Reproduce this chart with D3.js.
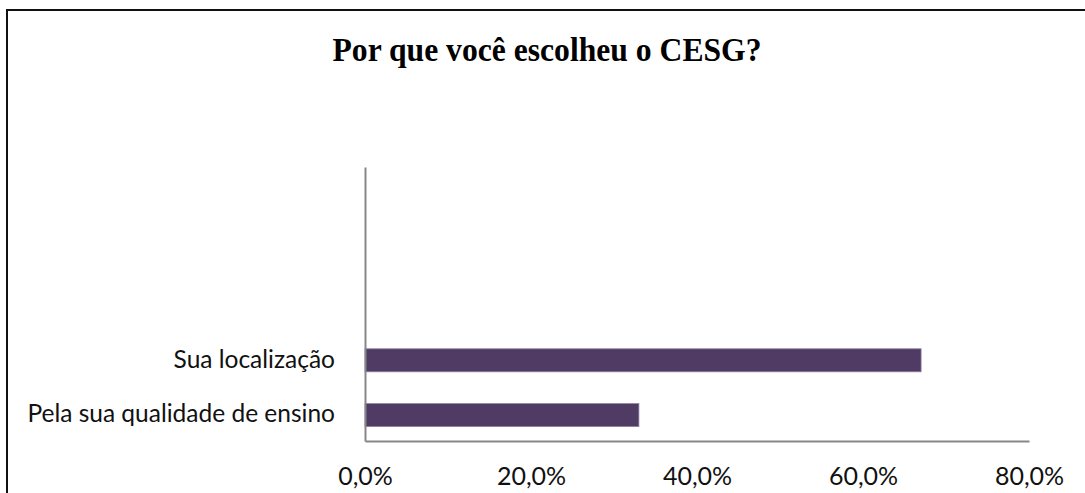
<!DOCTYPE html>
<html>
<head>
<meta charset="utf-8">
<script src="https://cdn.jsdelivr.net/npm/d3@7"></script>
<style>
  body { margin: 0; background: #fff; }
</style>
</head>
<body>
<script>
var width = 1085;
var height = 493;

var margin = {top: 167, left: 365, right: 56, bottom: 52};

// data
var title = "Por que você escolheu o CESG?";
var categories = ["", "", "", "Sua localização", "Pela sua qualidade de ensino"];
var values = [null, null, null, 0.67, 0.33];
var tickValues = [0, 0.2, 0.4, 0.6, 0.8];

var svg = d3.select("body")
  .append("svg")
  .attr("width", width)
  .attr("height", height);

// outer frame (cut off at right and bottom)
svg.append("rect")
  .attr("x", 7)
  .attr("y", 10)
  .attr("width", width + 20)
  .attr("height", height + 20)
  .attr("fill", "none")
  .attr("stroke", "#111")
  .attr("stroke-width", 2);

svg.append("text")
  .attr("x", 547)
  .attr("y", 61)
  .attr("text-anchor", "middle")
  .attr("font-family", "'Liberation Serif', 'Times New Roman', serif")
  .attr("font-weight", "bold")
  .attr("font-size", 33)
  .attr("textLength", 429)
  .attr("lengthAdjust", "spacingAndGlyphs")
  .text(title);

var locale = d3.formatLocale({decimal: ",", thousands: ".", grouping: [3], currency: ["R$", ""]});
var fmt = locale.format(".1%");

var xScale = d3.scaleLinear()
  .domain([0, 0.8])
  .range([margin.left, width - margin.right]);

var yScale = d3.scaleBand()
  .domain(d3.range(categories.length))
  .range([margin.top, height - margin.bottom])
  .paddingInner(0.58)
  .paddingOuter(0.29);

var bars = svg.selectAll("rect.bar")
  .data(values.map(function(v, i) { return {i: i, v: v}; }).filter(function(d) { return d.v != null; }))
  .enter()
  .append("rect")
  .attr("class", "bar")
  .attr("x", xScale(0))
  .attr("y", function(d) { return yScale(d.i) + 1.5; })
  .attr("width", function(d) { return xScale(d.v) - xScale(0); })
  .attr("height", yScale.bandwidth())
  .attr("fill", "#4f3b63")
  .attr("stroke", "#8f82a3")
  .attr("stroke-width", 0.8);

// axes
var xAxis = svg.append("g")
  .attr("transform", "translate(0," + (height - margin.bottom) + ")")
  .call(d3.axisBottom(xScale).tickValues(tickValues).tickFormat(fmt).tickSize(0).tickPadding(26));

xAxis.select(".domain").attr("stroke", "#878787").attr("stroke-width", 2);
xAxis.selectAll("text")
  .attr("font-family", "Lato, 'Noto Sans', sans-serif")
  .attr("font-size", 25)
  .attr("fill", "#111");

var yAxis = svg.append("g")
  .attr("transform", "translate(" + margin.left + ",0)")
  .call(d3.axisLeft(yScale).tickFormat(function(i) { return categories[i]; }).tickSize(0).tickPadding(30));

yAxis.select(".domain").attr("stroke", "#878787").attr("stroke-width", 2);
yAxis.selectAll("text")
  .attr("font-family", "Lato, 'Noto Sans', sans-serif")
  .attr("font-size", 24.5)
  .attr("fill", "#111")
  .attr("dy", "0.36em");
</script>
</body>
</html>
